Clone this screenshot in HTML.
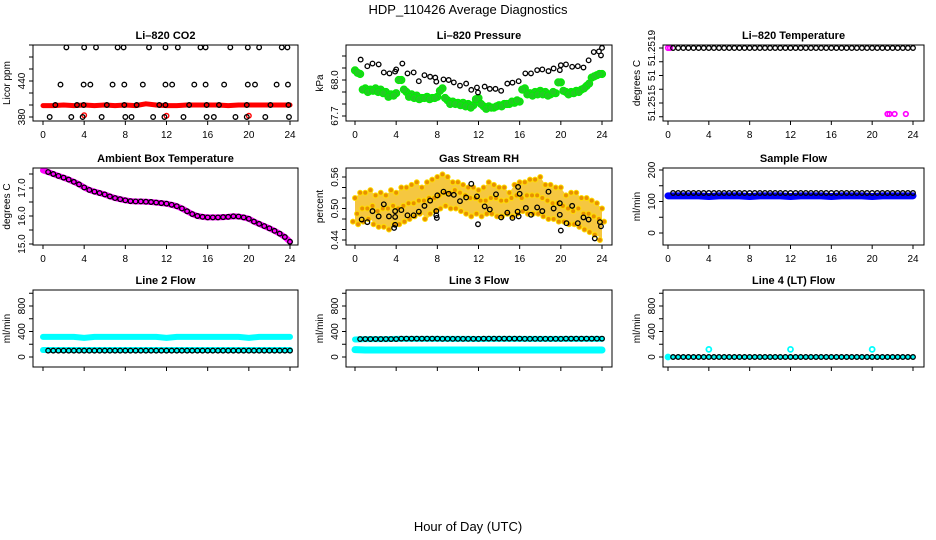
<!DOCTYPE html>
<html><head><meta charset="utf-8"><style>
html,body{margin:0;padding:0;background:#fff}
svg{display:block;font-family:"Liberation Sans",sans-serif}
</style></head><body>
<svg id="chart" width="936" height="540" viewBox="0 0 936 540">
<text x="468" y="14" text-anchor="middle" font-size="13">HDP_110426  Average Diagnostics</text>
<text x="468" y="531" text-anchor="middle" font-size="13">Hour of Day (UTC)</text>
</svg>
<script>
// ---------- data ----------
const xTicks=[0,4,8,12,16,20,24];
const half=[0.5,1,1.5,2,2.5,3,3.5,4,4.5,5,5.5,6,6.5,7,7.5,8,8.5,9,9.5,10,10.5,11,11.5,12,12.5,13,13.5,14,14.5,15,15.5,16,16.5,17,17.5,18,18.5,19,19.5,20,20.5,21,21.5,22,22.5,23,23.5,24];
const hours0=[0,1,2,3,4,5,6,7,8,9,10,11,12,13,14,15,16,17,18,19,20,21,22,23,24];
const half0=[0].concat(half);

// CO2
const co2BlackX=[2.27,4.0,5.15,7.25,7.83,10.3,11.9,13.1,15.3,15.8,18.2,19.9,21.0,23.2,23.75,1.7,3.95,4.6,6.76,7.9,9.7,11.9,12.55,14.7,15.8,17.6,19.9,20.6,22.7,23.8,1.2,3.3,3.95,6.2,7.9,9.1,11.3,11.9,14.2,15.9,17.1,19.8,22.1,23.85,0.65,2.75,3.85,5.7,8.0,8.6,10.7,11.8,13.65,15.9,16.6,18.7,19.8,21.6,23.9];
const co2BlackY=[496,496,496,496,496,496,496,496,496,496,496,496,496,496,496,434,434,434,434,434,434,434,434,434,434,434,434,434,434,434,400,400,400,400,400,400,400,400,400,400,400,400,400,400,380,380,380,380,380,380,380,380,380,380,380,380,380,380,380];
const co2Red=[399,399,400,399,400,399,400,399,400,399,402,400,399,399,400,400,400,400,399,400,400,400,400,400,400];
const co2RedOutX=[4.0,12.0,20.0];
const co2RedOutY=[383,382,382];

// Pressure
const prX=[0.55,1.2,1.7,2.3,2.8,3.35,3.9,4.0,4.6,5.1,5.7,6.2,6.75,7.3,7.8,7.9,8.6,9.1,9.6,10.2,10.8,11.3,11.85,11.95,12.6,13.1,13.65,14.2,14.8,15.3,15.9,16.55,17.1,17.7,18.2,18.8,19.3,19.9,20.0,20.5,21.1,21.65,22.2,22.7,23.2,23.7,23.9,24.0];
const prY=[68.17,68.115,68.137,68.13,68.063,68.055,68.07,68.088,68.137,68.055,68.063,67.99,68.04,68.027,68.02,67.986,68.005,68.0,67.98,67.953,67.97,67.918,67.937,67.896,67.945,67.926,67.926,67.91,67.97,67.978,67.99,68.055,68.055,68.082,68.088,68.074,68.096,68.082,68.123,68.13,68.11,68.115,68.104,68.164,68.233,68.238,68.205,68.268];
const prGreenA=[68.08,68.05,67.93,67.92,67.93,67.92,67.9,67.88,67.89,68.0,67.9,67.88,67.87,67.85,67.86,67.85,67.86,67.93,67.83,67.82,67.81,67.81,67.8,67.79,67.85,67.78,67.78,67.77,67.79,67.8,67.8,67.81,67.82,67.93,67.89,67.9,67.91,67.9,67.88,67.89,67.98,67.9,67.9,67.91,67.92,67.95,68.02,68.04,68.05];
const prGreenB=[68.06,67.92,67.9,67.91,67.9,67.89,67.86,67.87,68.0,67.92,67.86,67.85,67.84,67.85,67.84,67.85,67.91,67.85,67.8,67.8,67.79,67.78,67.77,67.84,67.8,67.76,67.77,67.78,67.78,67.8,67.82,67.83,67.92,67.88,67.87,67.88,67.88,67.87,67.9,67.98,67.91,67.88,67.89,67.9,67.93,67.97,68.03,68.05];

// Li-820 temperature
const ltBlack=[51.2519,51.2519,51.2519,51.2519,51.2519,51.2519,51.2519,51.2519,51.2519,51.2519,51.2519,51.2519,51.2519,51.2519,51.2519,51.2519,51.2519,51.2519,51.2519,51.2519,51.2519,51.2519,51.2519,51.2519,51.2519,51.2519,51.2519,51.2519,51.2519,51.2519,51.2519,51.2519,51.2519,51.2519,51.2519,51.2519,51.2519,51.2519,51.2519,51.2519,51.2519,51.2519,51.2519,51.2519,51.2519,51.2519,51.2519,51.2519];
const ltMagX=[0,0.2,21.5,21.7,22.2,23.3];
const ltMagY=[51.2519,51.2519,51.25142,51.25142,51.25142,51.25142];

// Ambient box temperature
const abTemp=[17.57,17.5,17.43,17.37,17.3,17.22,17.13,17.02,16.93,16.87,16.82,16.77,16.7,16.64,16.6,16.56,16.53,16.52,16.52,16.51,16.5,16.48,16.46,16.44,16.4,16.35,16.27,16.17,16.07,16.0,15.97,15.95,15.95,15.95,15.96,15.97,15.99,15.98,15.95,15.9,15.8,15.72,15.64,15.56,15.47,15.37,15.25,15.08];
const abStart=17.63;

// Gas stream RH
const rhX=[0.65,1.2,1.7,2.3,2.8,3.3,3.9,3.9,3.9,3.8,4.5,5.1,5.7,6.2,6.75,7.3,7.9,7.9,7.95,8.0,8.6,9.1,9.6,10.2,10.8,11.3,11.85,11.95,12.6,13.1,13.7,14.2,14.8,15.3,15.8,15.9,15.85,16.0,16.6,17.1,17.7,18.2,18.8,19.3,19.9,19.9,20.0,20.55,21.1,21.65,22.2,22.7,23.3,23.8,23.9];
const rhY=[0.479,0.474,0.495,0.485,0.508,0.485,0.484,0.495,0.469,0.463,0.497,0.487,0.487,0.494,0.505,0.515,0.495,0.487,0.482,0.525,0.532,0.528,0.526,0.514,0.521,0.547,0.523,0.47,0.504,0.498,0.527,0.483,0.492,0.482,0.494,0.485,0.541,0.528,0.501,0.488,0.502,0.495,0.532,0.50,0.51,0.488,0.458,0.472,0.505,0.472,0.483,0.479,0.443,0.474,0.466];
const rhHi=[0.52,0.53,0.53,0.535,0.525,0.53,0.525,0.535,0.53,0.54,0.54,0.545,0.55,0.54,0.55,0.555,0.56,0.565,0.56,0.55,0.55,0.545,0.54,0.54,0.535,0.54,0.55,0.545,0.54,0.54,0.53,0.545,0.55,0.55,0.555,0.555,0.56,0.545,0.545,0.54,0.54,0.525,0.53,0.53,0.52,0.52,0.515,0.51,0.5];
const rhMid=[0.49,0.5,0.5,0.505,0.495,0.5,0.5,0.505,0.5,0.505,0.51,0.51,0.515,0.515,0.52,0.52,0.525,0.53,0.53,0.535,0.53,0.525,0.52,0.52,0.515,0.515,0.52,0.52,0.515,0.515,0.52,0.525,0.52,0.525,0.525,0.525,0.52,0.515,0.51,0.51,0.505,0.5,0.495,0.5,0.49,0.49,0.485,0.48,0.475];
const rhLo=[0.475,0.47,0.475,0.48,0.47,0.465,0.465,0.46,0.47,0.47,0.475,0.48,0.485,0.49,0.48,0.49,0.495,0.5,0.505,0.5,0.5,0.495,0.49,0.485,0.49,0.485,0.49,0.49,0.485,0.485,0.49,0.485,0.49,0.495,0.49,0.49,0.49,0.485,0.48,0.48,0.475,0.475,0.47,0.47,0.465,0.46,0.455,0.45,0.44];

// Sample flow
const sfBlue=[118,118,118,118,116,118,118,118,116,118,118,118,116,118,118,118,116,118,118,118,116,118,118,118,118];
const sfBlack=[127,127,127,127,127,127,127,127,127,127,127,127,127,127,127,127,127,127,127,127,127,127,127,127,127,127,127,127,127,127,127,127,127,127,127,127,127,127,127,127,127,127,127,127,127,127,127,127];

// Line 2 flow
const l2CyanHi=[316,316,316,316,300,316,316,316,316,316,316,316,300,316,316,316,316,316,316,316,300,316,316,316,316];
const l2CyanLo=[110,110,110,110,110,110,110,110,110,110,110,110,110,110,110,110,110,110,110,110,110,110,110,110,110];
const l2Black=[100,100,100,100,100,100,100,100,100,100,100,100,100,100,100,100,100,100,100,100,100,100,100,100,100,100,100,100,100,100,100,100,100,100,100,100,100,100,100,100,100,100,100,100,100,100,100,100];
// Line 3 flow
const l3CyanHi=[275,280,280,280,285,285,285,285,285,285,285,285,283,285,285,285,285,285,285,285,285,285,285,285,285];
const l3CyanLo=[115,110,110,110,110,110,110,110,110,110,110,110,110,110,110,110,110,110,110,110,110,110,110,110,110];
const l3Black=[282,282,282,282,282,282,282,282,288,288,288,288,288,288,288,288,285,285,285,285,285,285,285,285,288,288,288,288,288,288,288,288,285,285,285,285,285,285,285,285,288,288,288,288,288,288,288,288];
// Line 4 flow
const l4Black=[0,0,0,0,0,0,0,0,0,0,0,0,0,0,0,0,0,0,0,0,0,0,0,0,0,0,0,0,0,0,0,0,0,0,0,0,0,0,0,0,0,0,0,0,0,0,0,0];
const l4CyanOutX=[0,4,12,20];
const l4CyanOutY=[0,120,120,120];

// ---------- drawing ----------
const svg=document.getElementById('chart');
const NS='http://www.w3.org/2000/svg';
function el(tag,attrs,parent){const e=document.createElementNS(NS,tag);for(const k in attrs)e.setAttribute(k,attrs[k]);(parent||svg).appendChild(e);return e;}

function panel(o){
  const g=el('g',{});
  
  
  const [L,T,R,B]=o.box;
  const X=v=>o.xp0+(v/24)*(o.xp24-o.xp0);
  const Y=v=>o.yp1+(v-o.yv1)*(o.yp2-o.yp1)/(o.yv2-o.yv1);
  const t=el('text',{x:(L+R)/2,y:T-6,'text-anchor':'middle','font-size':11,'font-weight':'bold'},g);
  t.textContent=o.title;
  
  
  const yl=el('text',{x:0,y:0,'text-anchor':'middle','font-size':10,transform:`translate(${L-23},${(T+B)/2}) rotate(-90)`},g);
  yl.textContent=o.ylab;
  
  
  const plot=el('g',{},g);
  const clip='clip-'+o.name;
  const cp=el('clipPath',{id:clip},g);el('rect',{x:L,y:T,width:R-L,height:B-T},cp);
  plot.setAttribute('clip-path',`url(#${clip})`);
  // axes
  const box=el('rect',{x:L,y:T,width:R-L,height:B-T,fill:'none',stroke:'#000','stroke-width':1},g);
  
  
  xTicks.forEach(v=>{
    const x=X(v);
    const tk=el('line',{x1:x,x2:x,y1:B,y2:B+4,stroke:'#000'},g);
    
    
    if(o.xlabels){
      const tx=el('text',{x:x,y:B+17,'text-anchor':'middle','font-size':10},g);
      tx.textContent=v;
      
      
    }
  });
  o.yticks.forEach(v=>{
    const y=Y(v);
    const tk=el('line',{x1:L-4,x2:L,y1:y,y2:y,stroke:'#000'},g);
    
    
  });
  o.ylabels.forEach(([v,s])=>{
    const y=Y(v);
    const tx=el('text',{x:0,y:0,'text-anchor':'middle','font-size':10,transform:`translate(${L-8},${y}) rotate(-90)`},g);
    tx.textContent=s;
    
    
  });
  return {X,Y,plot};
}
function pts(p,xs,ys,stroke,fill,r,sw,name){
  xs.forEach((x,i)=>{
    const c=el('circle',{cx:p.X(x),cy:p.Y(ys[i]),r:r,fill:fill,stroke:stroke,'stroke-width':sw},p.plot);
    
    
  });
}
function band(p,xs,ys,color,w,name){
  const l=el('polyline',{points:xs.map((x,i)=>p.X(x)+','+p.Y(ys[i])).join(' '),fill:'none',stroke:color,'stroke-width':w,'stroke-linejoin':'round','stroke-linecap':'round'},p.plot);
  
  
}

// row geometry
const r1=[45,121],r2=[168,245],r3=[290,367];
const c1=[33,298,43,290],c2=[346,612,355,602],c3=[663,924,668,913];

// P1 CO2
let p=panel({name:'panel-li820-co2',box:[c1[0],r1[0],c1[1],r1[1]],xp0:c1[2],xp24:c1[3],yv1:380,yp1:117,yv2:440,yp2:81,yticks:[380,400,420,440,460,480,500],ylabels:[[380,'380'],[440,'440']],title:'Li\u2013820 CO2',ylab:'Licor ppm',xlabels:true});
band(p,hours0,co2Red,'#ff0000',5,'co2-red-band');
pts(p,co2RedOutX,co2RedOutY,'#ff0000','none',2.3,1.4,'co2-red-point');
pts(p,co2BlackX,co2BlackY,'#000','none',2.3,1.3,'co2-black-point');

// P2 Pressure
p=panel({name:'panel-li820-pressure',box:[c2[0],r1[0],c2[1],r1[1]],xp0:c2[2],xp24:c2[3],yv1:67.7,yp1:116,yv2:68.0,yp2:80,yticks:[67.7,67.8,67.9,68.0,68.1,68.2],ylabels:[[67.7,'67.7'],[68.0,'68.0']],title:'Li\u2013820 Pressure',ylab:'kPa',xlabels:true});
pts(p,half0,prGreenA,'#00ee00','#22cc22',3.6,1,'pressure-green-point');
pts(p,half.map(h=>h-0.25),prGreenB,'#00ee00','#22cc22',3.6,1,'pressure-green-point');
pts(p,prX,prY,'#000','none',2.3,1.3,'pressure-black-point');

// P3 Li-820 temperature
p=panel({name:'panel-li820-temperature',box:[c3[0],r1[0],c3[1],r1[1]],xp0:c3[2],xp24:c3[3],yv1:51.2515,yp1:103,yv2:51.2519,yp2:48,yticks:[51.2514,51.2515,51.2516,51.2517,51.2518,51.2519],ylabels:[[51.2519,'51.2519'],[51.2517,'51'],[51.2515,'51.2515']],title:'Li\u2013820 Temperature',ylab:'degrees C',xlabels:true});
pts(p,ltMagX,ltMagY,'#ff00ff','none',2.3,1.6,'temp-magenta-point');
pts(p,half,ltBlack,'#000','none',2.3,1.3,'temp-black-point');

// P4 Ambient
p=panel({name:'panel-ambient-box-temperature',box:[c1[0],r2[0],c1[1],r2[1]],xp0:c1[2],xp24:c1[3],yv1:15,yp1:244,yv2:16,yp2:216,yticks:[15,15.5,16,16.5,17,17.5],ylabels:[[15,'15.0'],[16,'16.0'],[17,'17.0']],title:'Ambient Box Temperature',ylab:'degrees C',xlabels:true});
band(p,[0].concat(half),[abStart].concat(abTemp),'#ff00ff',6,'ambient-magenta-band');
pts(p,half,abTemp,'#000','none',2.3,1.3,'ambient-black-point');

// P5 RH
p=panel({name:'panel-gas-stream-rh',box:[c2[0],r2[0],c2[1],r2[1]],xp0:c2[2],xp24:c2[3],yv1:0.44,yp1:240,yv2:0.56,yp2:177,yticks:[0.44,0.46,0.48,0.50,0.52,0.54,0.56],ylabels:[[0.44,'0.44'],[0.50,'0.50'],[0.56,'0.56']],title:'Gas Stream RH',ylab:'percent',xlabels:true});
{
  const poly=el('polygon',{points:half0.map((x,i)=>p.X(x)+','+p.Y(rhHi[i])).concat(half0.slice().reverse().map((x,j)=>p.X(x)+','+p.Y(rhLo[half0.length-1-j]))).join(' '),fill:'#f2b400',opacity:0.75},p.plot);
  
  
}
pts(p,half0,rhHi,'#ffdd00','#e89000',2.5,1,'rh-cloud-point');
pts(p,half0.map(h=>h+0.2),rhMid,'#ffdd00','#e89000',2.5,1,'rh-cloud-point');
pts(p,half0.map(h=>h-0.2),rhLo,'#ffdd00','#e89000',2.5,1,'rh-cloud-point');
pts(p,rhX,rhY,'#000','none',2.3,1.3,'rh-black-point');

// P6 Sample flow
p=panel({name:'panel-sample-flow',box:[c3[0],r2[0],c3[1],r2[1]],xp0:c3[2],xp24:c3[3],yv1:0,yp1:233,yv2:200,yp2:170,yticks:[0,50,100,150,200],ylabels:[[0,'0'],[100,'100'],[200,'200']],title:'Sample Flow',ylab:'ml/min',xlabels:true});
band(p,hours0,sfBlue,'#0000ff',7,'sample-flow-blue-band');
pts(p,half,sfBlack,'#000','none',2.3,1.3,'sample-flow-black-point');

// P7 Line 2
const fl={yv1:0,yp1:357,yv2:800,yp2:306,yticks:[0,200,400,600,800,1000],ylabels:[[0,'0'],[400,'400'],[800,'800']],ylab:'ml/min',xlabels:false};
p=panel(Object.assign({name:'panel-line2-flow',box:[c1[0],r3[0],c1[1],r3[1]],xp0:c1[2],xp24:c1[3],title:'Line 2 Flow'},fl));
band(p,hours0,l2CyanHi,'#00ffff',6,'line2-cyan-high');
band(p,hours0,l2CyanLo,'#00ffff',6,'line2-cyan-low');
pts(p,half,l2Black,'#000','none',2.3,1.3,'line2-black-point');

// P8 Line 3
p=panel(Object.assign({name:'panel-line3-flow',box:[c2[0],r3[0],c2[1],r3[1]],xp0:c2[2],xp24:c2[3],title:'Line 3 Flow'},fl));
band(p,hours0,l3CyanHi,'#00ffff',6,'line3-cyan-high');
band(p,hours0,l3CyanLo,'#00ffff',7,'line3-cyan-low');
pts(p,half,l3Black,'#000','none',2.3,1.3,'line3-black-point');

// P9 Line 4
p=panel(Object.assign({name:'panel-line4-flow',box:[c3[0],r3[0],c3[1],r3[1]],xp0:c3[2],xp24:c3[3],title:'Line 4 (LT) Flow'},fl));
band(p,[0,24],[0,0],'#00ffff',4,'line4-cyan-band');
pts(p,l4CyanOutX,l4CyanOutY,'#00ffff','none',2.5,1.8,'line4-cyan-point');
pts(p,half,l4Black,'#000','none',2.3,1.3,'line4-black-point');
</script>
</body></html>
